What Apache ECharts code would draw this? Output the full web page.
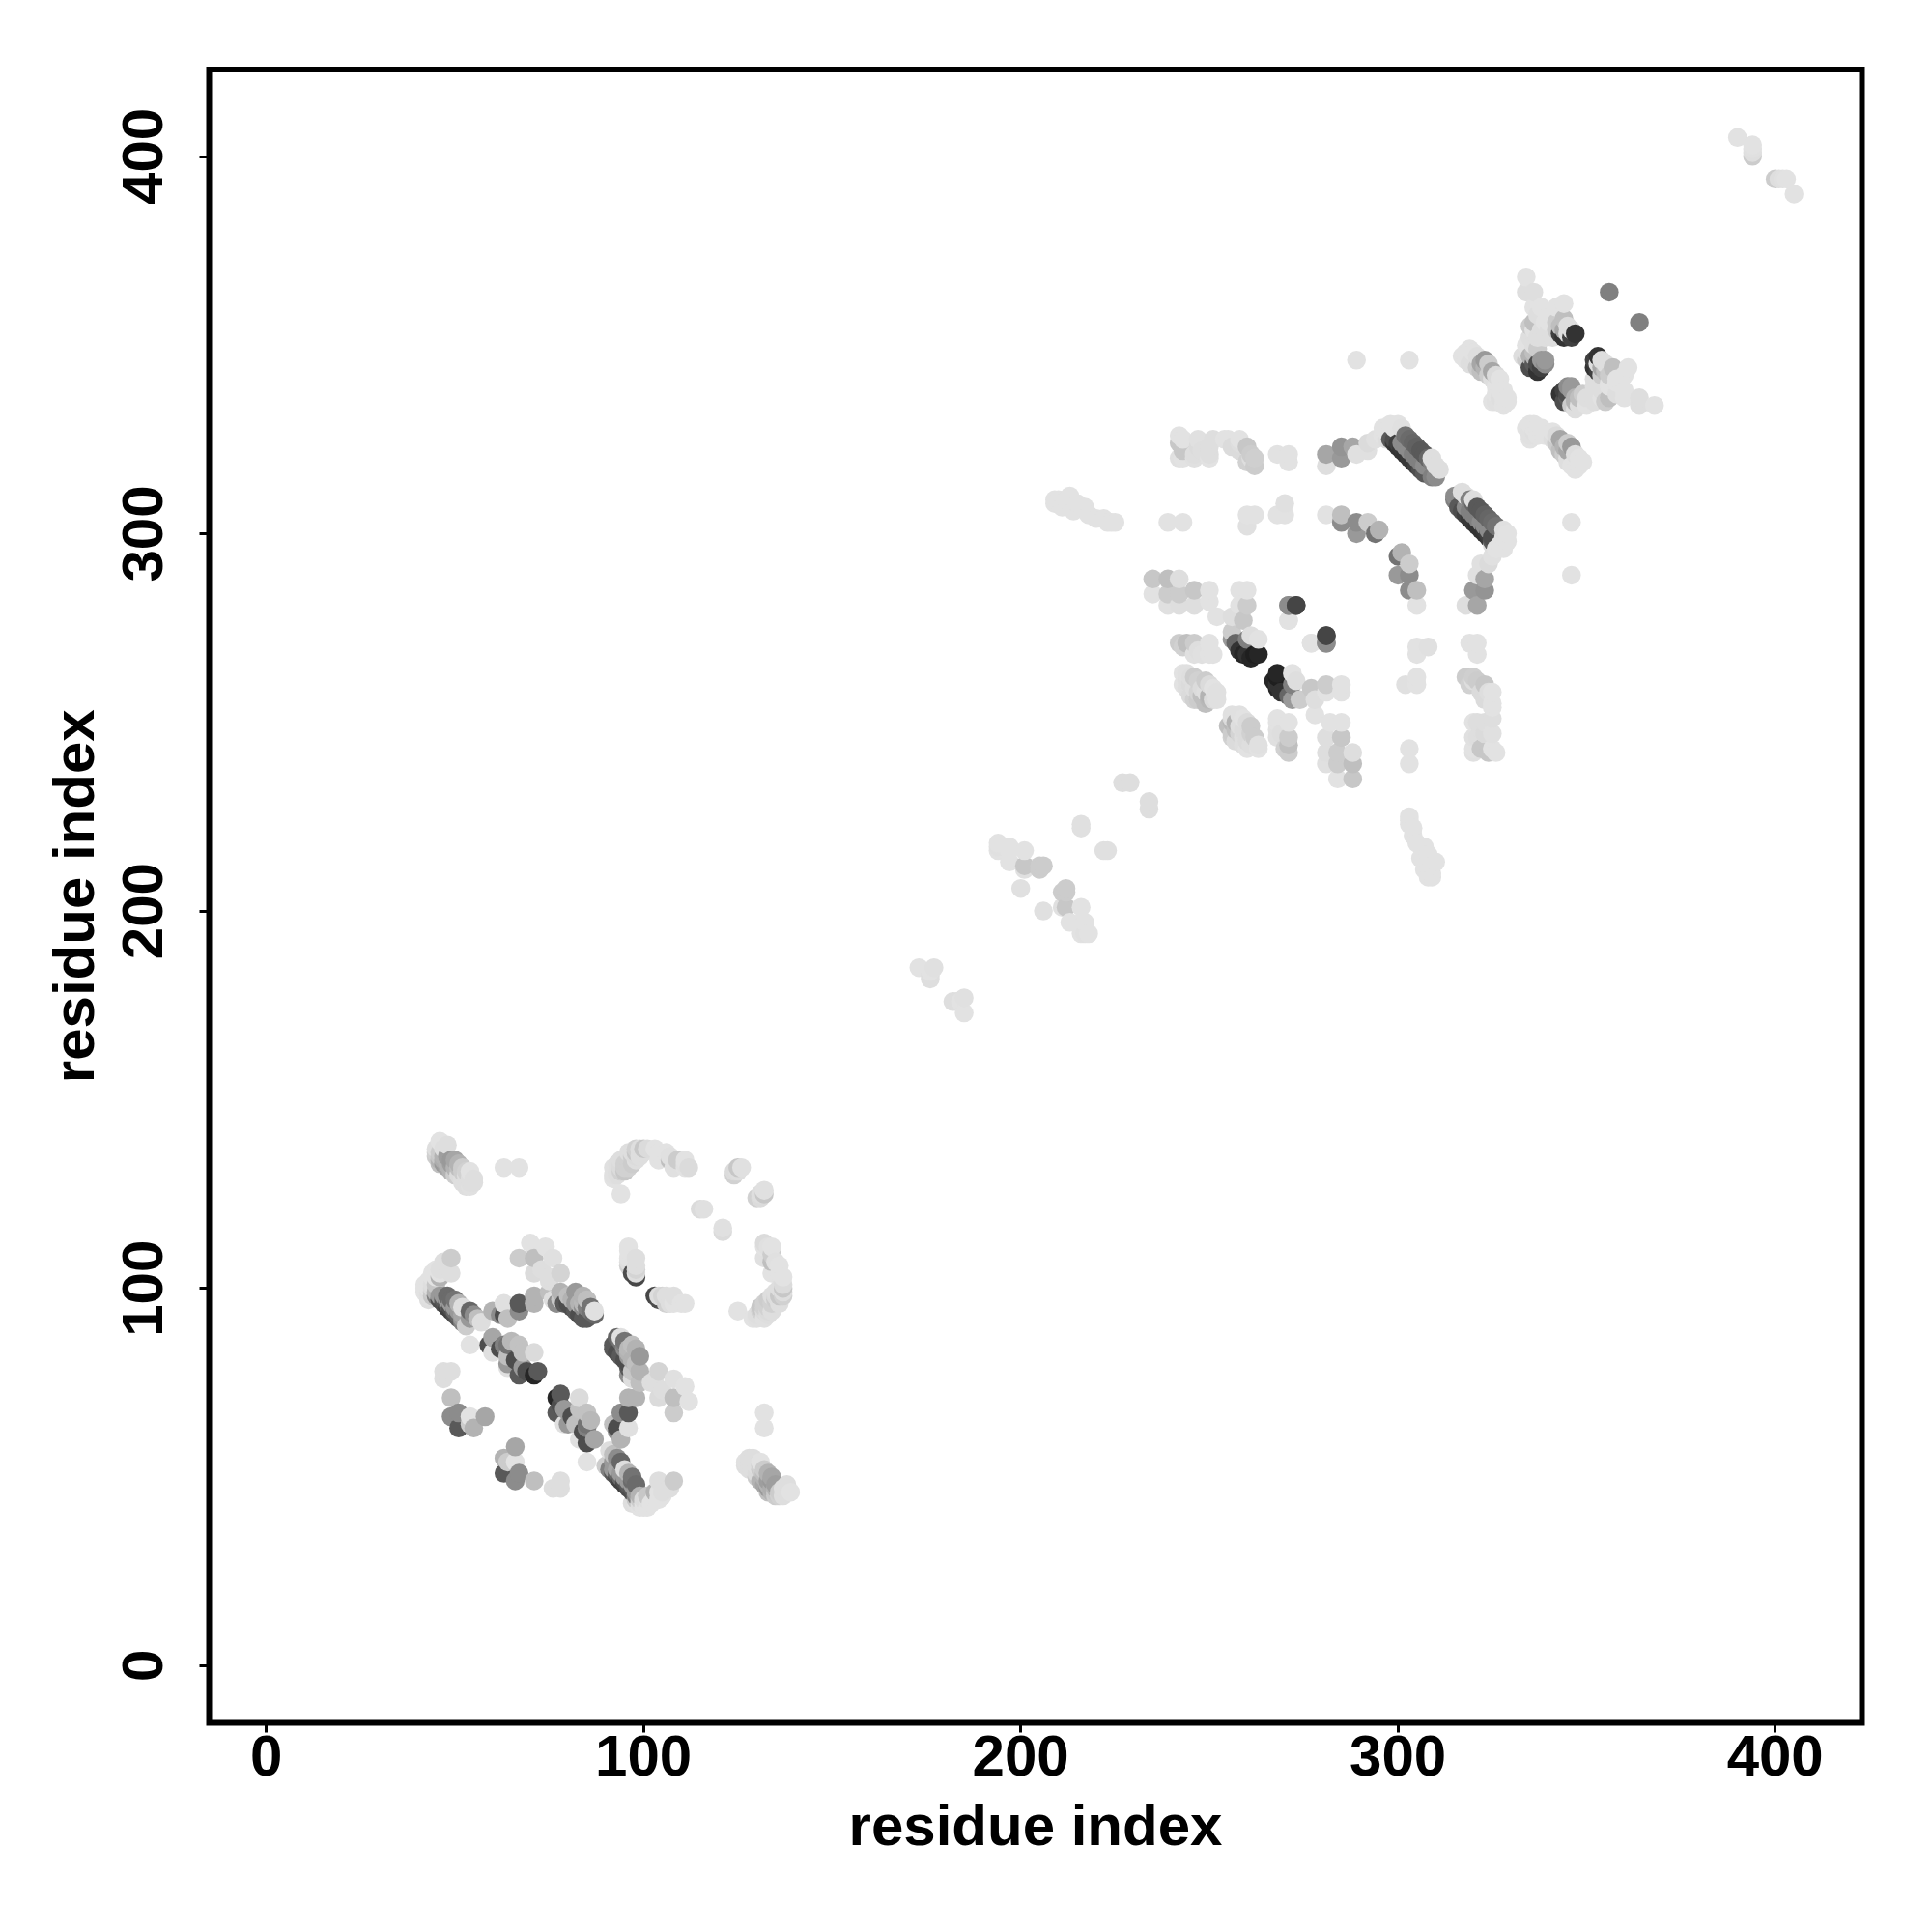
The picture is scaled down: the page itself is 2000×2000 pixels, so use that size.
<!DOCTYPE html>
<html><head><meta charset="utf-8">
<style>html,body{margin:0;padding:0;background:#fff}#c{width:2000px;height:2000px}</style>
<script src="https://cdn.jsdelivr.net/npm/echarts@6/dist/echarts.min.js"></script>
</head><body><div id="c"></div>
<script>
// contacts [residue i, residue j, grey level 0..1]; the map is symmetric about the diagonal
const strandA=[[46,139,.88],[45,137,.85],[45,136,.82],[45,135,.8],[46,136,.8],[46,134,.7],[46,133,.75],[47,137,.85],[48,138,.85],[46,135,.78],[47,135,.7],[47,134,.68],[47,133,.6],[48,135,.62],[48,133,.7],[48,132,.65],[49,134,.6],[49,133,.62],[49,131,.7],[50,134,.65],[50,132,.7],[50,130,.8],[51,133,.7],[51,132,.75],[51,130,.84],[52,132,.8],[52,131,.8],[53,131,.82],[53,130,.85],[54,129,.85],[54,131,.87],[55,129,.85],[52,129,.85],[52,128,.85],[53,128,.85],[53,127,.85],[54,127,.86],[54,128,.85],[55,128,.85],[63,132,.88],[67,132,.88]];
const arcB=[[92,129,.87],[92,130,.86],[92,132,.86],[93,130,.85],[93,131,.85],[93,133,.85],[94,125,.88],[94,131,.82],[94,132,.84],[94,133,.84],[94,134,.85],[95,131,.78],[95,132,.82],[95,133,.82],[96,132,.82],[96,134,.82],[96,136,.85],[97,133,.8],[97,135,.8],[97,136,.85],[98,135,.84],[98,136,.78],[98,137,.82],[98,134,.85],[99,135,.85],[99,137,.85],[100,136,.85],[100,137,.78],[101,137,.84],[103,137,.87],[104,136,.88],[104,134,.88],[106,136,.87],[107,134,.75],[107,135,.86],[108,132,.86],[109,134,.8],[111,133,.86],[111,134,.87],[111,132,.87],[112,132,.84],[124,130,.82],[125,132,.78],[126,132,.86],[115,121,.84],[116,121,.86],[124,131,.84],[125,131,.85]];
const stemC=[[96,111,.88],[96,110,.87],[96,108,.87],[98,108,.85],[96,107,.85],[98,106,.85],[96,106,.82],[98,105,.83],[97,104,.3],[98,103,.28],[98,104,.85]];
const bandD=[[42,100,.88],[42,101,.88],[42,99,.87],[43,102,.87],[43,100,.87],[43,98,.86],[43,97,.85],[44,101,.85],[44,100,.84],[44,103,.87],[44,104,.88],[45,105,.87],[46,104,.87],[45,101,.78],[44,99,.8],[43,99,.85],[44,98,.78],[45,99,.7],[45,98,.5],[46,97,.3],[46,98,.6],[47,97,.35],[47,96,.3],[47,98,.6],[48,95,.25],[48,96,.35],[48,97,.6],[49,95,.3],[49,94,.25],[49,96,.6],[50,93,.3],[50,94,.4],[50,95,.6],[51,92,.35],[51,93,.4],[51,94,.6],[52,91,.5],[52,92,.6],[52,93,.65],[48,98,.42],[49,97,.42],[50,97,.45],[51,96,.7],[52,95,.85],[54,94,.4],[55,93,.55],[54,92,.6],[56,92,.75],[57,91,.85],[53,90,.8],[46,103,.7],[47,107,.85],[49,108,.8],[49,104,.85],[46,105,.85],[45,103,.87]];
const clusterE=[[60,94,.7],[63,96,.86],[63,93,.3],[62,93,.55],[64,92,.75],[67,96,.35],[67,94,.55],[71,98,.7],[71,96,.7],[70,112,.88],[67,108,.8],[71,108,.75],[74,111,.88],[76,108,.86],[71,104,.84],[73,105,.85],[75,103,.85],[78,104,.83],[75,102,.85],[75,99,.75],[76,97,.85],[77,96,.55],[78,99,.7],[78,97,.78],[79,96,.35],[80,96,.3],[81,95,.3],[80,98,.75],[81,97,.7],[82,99,.6],[82,96,.6],[82,94,.35],[83,93,.3],[83,96,.7],[84,98,.7],[84,96,.72],[84,95,.55],[84,92,.35],[85,92,.35],[85,95,.5],[86,94,.45],[86,95,.45],[87,93,.4],[87,94,.86],[85,97,.75]];
const clusterF=[[60,87,.65],[59,85,.3],[60,83,.86],[54,85,.88],[63,85,.5],[62,84,.3],[64,85,.45],[65,86,.72],[67,85,.76],[68,83,.76],[71,83,.84],[64,80,.6],[64,79,.86],[64,82,.75],[66,81,.3],[68,79,.6],[67,77,.35],[69,78,.3],[72,78,.35],[71,77,.15],[47,76,.85],[47,78,.85],[49,78,.85],[49,71,.75],[51,67,.55],[49,66,.55],[54,66,.88],[58,66,.65],[51,63,.35],[55,63,.7],[54,64,.8]];
const rowG=[[242,324,.78],[242,320,.86],[242,326,.87],[243,325,.87],[243,322,.78],[243,320,.87],[246,320,.86],[246,321,.85],[247,325,.86],[247,323,.84],[248,322,.85],[250,320,.87],[250,321,.85],[250,323,.85],[251,325,.85],[254,325,.87],[255,325,.87],[256,323,.84],[258,324,.85],[258,325,.87],[258,322,.84],[260,323,.78],[260,319,.82],[261,320,.85],[261,321,.8],[262,318,.8],[262,320,.81],[268,321,.88],[271,321,.88],[271,319,.88],[281,321,.65],[281,318,.85],[285,323,.58],[285,320,.6],[288,323,.65],[289,321,.86],[292,324,.84],[292,322,.86],[294,325,.86],[239,303,.88],[243,303,.88],[260,305,.88],[260,302,.86],[262,305,.88],[268,305,.88],[270,308,.86],[270,305,.87],[281,305,.87],[285,305,.75],[285,303,.55],[289,303,.55],[289,300,.6],[292,303,.8],[294,300,.45],[295,301,.7]];
const bandH=[[296,328,.88],[296,326,.88],[297,327,.87],[297,325,.85],[298,329,.88],[298,325,.35],[299,328,.88],[299,324,.22],[299,325,.3],[300,329,.88],[300,323,.2],[300,324,.25],[301,328,.86],[301,322,.2],[301,323,.22],[301,324,.55],[302,326,.45],[302,321,.2],[302,323,.55],[303,325,.42],[303,320,.22],[303,322,.55],[304,324,.4],[304,319,.22],[304,321,.5],[305,323,.38],[305,318,.25],[305,320,.5],[306,322,.35],[306,317,.3],[306,319,.5],[307,321,.35],[307,316,.35],[307,318,.55],[308,320,.4],[309,319,.5],[309,315,.5],[309,320,.85],[310,315,.55],[310,318,.85],[311,317,.85]];
const gridI=[[235,288,.78],[235,284,.88],[239,288,.75],[239,284,.8],[239,281,.86],[242,288,.85],[242,284,.8],[242,281,.85],[246,285,.78],[246,281,.85],[250,285,.87],[250,282,.88],[252,278,.88],[256,278,.85],[258,285,.87],[258,281,.87],[256,274,.8],[256,272,.6],[257,271,.4],[258,269,.2],[259,268,.15],[259,277,.78],[260,285,.87],[260,281,.8],[260,272,.5],[260,268,.2],[261,273,.85],[261,267,.15],[262,268,.12],[263,272,.87],[263,268,.15],[273,281,.3],[271,281,.55],[271,277,.88],[277,271,.88],[281,273,.27],[281,271,.55],[242,271,.8],[243,270,.82],[244,271,.75],[246,271,.8],[247,269,.85],[246,268,.86],[248,268,.86],[250,271,.87],[250,268,.88],[251,268,.88],[243,263,.87],[243,260,.87],[244,261,.85],[244,263,.86],[244,259,.85],[245,262,.85],[245,260,.84],[245,257,.84],[246,262,.8],[246,259,.85],[246,256,.82],[247,261,.82],[247,258,.83],[247,256,.8],[248,257,.75],[248,259,.84],[249,261,.8],[249,258,.85],[249,255,.75],[250,257,.7],[250,256,.72],[251,259,.87],[250,260,.84],[251,256,.84],[252,258,.86],[252,256,.86]];
const chainJ=[[209,308,.87],[209,309,.87],[210,309,.87],[211,307,.87],[212,309,.87],[213,308,.87],[213,310,.87],[214,306,.87],[215,308,.87],[217,307,.87],[218,305,.87],[220,304,.87],[222,304,.87],[223,303,.87],[224,303,.87],[225,303,.87],[173,185,.87],[176,183,.85],[176,182,.85],[177,185,.86],[176,184,.87],[194,218,.87],[194,217,.86],[194,216,.87],[197,217,.87],[197,216,.87],[197,213,.87],[201,216,.87],[201,212,.78],[201,211,.86],[205,212,.8],[205,211,.8],[206,212,.8],[200,206,.86],[216,223,.86],[216,222,.86],[227,234,.85],[229,234,.85]];
const clusterK=[[289,346,.88],[303,346,.88],[334,368,.88],[334,364,.85],[336,364,.85],[336,360,.88],[338,360,.87],[342,360,.87],[344,361,.87],[339,356,.87],[336,354,.87],[336,356,.75],[335,355,.8],[337,358,.85],[340,356,.87],[341,358,.87],[340,358,.87],[342,356,.8],[344,357,.75],[335,352,.85],[336,350,.85],[337,352,.85],[338,354,.85],[339,352,.85],[340,354,.85],[341,352,.85],[342,354,.8],[343,355,.75],[344,354,.65],[343,353,.25],[344,352,.2],[345,355,.85],[345,353,.85],[346,354,.85],[346,352,.25],[347,353,.2],[334,350,.88],[334,348,.85],[333,347,.85],[334,346,.8],[335,347,.7],[335,344,.3],[336,348,.75],[336,345,.35],[336,347,.7],[337,349,.8],[337,345,.3],[337,343,.2],[338,346,.6],[339,346,.6],[339,345,.55],[338,344,.25],[356,364,.5]];
const clusterL=[[328,334,.88],[329,336,.88],[329,335,.87],[328,338,.88],[325,335,.87],[327,341,.88],[325,343,.65],[325,341,.85],[323,346,.6],[322,343,.75],[322,345,.65],[323,344,.7],[324,345,.8],[324,342,.8],[320,348,.88],[319,349,.88],[318,348,.88],[317,347,.87],[318,346,.87],[319,345,.85],[321,344,.8],[320,345,.85],[321,347,.85],[326,339,.87],[326,337,.87],[327,338,.87],[328,337,.88],[326,342,.84],[328,336,.88],[327,335,.86],[327,336,.85],[326,335,.86]];
const cornerM=[[390,405,.87],[394,403,.87],[394,402,.86],[394,401,.85],[394,400,.8]];

const blocks=[strandA,arcB,stemC,bandD,clusterE,clusterF,rowG,bandH,gridI,chainJ,clusterK,clusterL,cornerM];
const xTickValues=[0,100,200,300,400];
const yTickValues=[0,100,200,300,400];
const xAxisTitle='residue index';
const yAxisTitle='residue index';

const points=[];
blocks.forEach(b=>b.forEach(([i,j,g])=>{points.push([i,j,g]);points.push([j,i,g]);}));
points.sort((a,b)=>a[0]-b[0]||a[1]-b[1]);
const greyHex=g=>{const t=g>=.84?Math.min(.885,g+.02):g;const v=Math.round(t*255).toString(16).padStart(2,'0');return '#'+v+v+v;};
const FONT='"Liberation Sans",Arial,sans-serif';
const axisCommon=ticks=>({
  type:'value',min:-15.15,max:423,splitLine:{show:false},
  axisLine:{show:false,onZero:false},
  axisTick:{show:true,length:10,customValues:ticks,lineStyle:{color:'#000',width:3}},
  nameLocation:'middle',
  nameTextStyle:{fontFamily:FONT,fontWeight:'bold',fontSize:60,color:'#000'}
});
const chart=echarts.init(document.getElementById('c'),null,{renderer:'canvas'});
chart.setOption({
  animation:false,backgroundColor:'#fff',
  grid:{show:true,left:216.5,right:72.5,top:72,bottom:216.5,borderColor:'#000',borderWidth:6,backgroundColor:'transparent',containLabel:false},
  xAxis:Object.assign(axisCommon(xTickValues),{name:xAxisTitle,nameGap:80,
    axisLabel:{customValues:xTickValues,margin:8,fontFamily:FONT,fontWeight:'bold',fontSize:60,color:'#000',hideOverlap:false}}),
  yAxis:Object.assign(axisCommon(yTickValues),{name:yAxisTitle,nameGap:106,
    axisLabel:{customValues:yTickValues,rotate:90,margin:65,align:'center',verticalAlign:'middle',fontFamily:FONT,fontWeight:'bold',fontSize:60,color:'#000',hideOverlap:false}}),
  series:[{type:'scatter',symbol:'circle',symbolSize:19.5,clip:false,z:1,
    data:points.map(p=>({value:[p[0],p[1]],itemStyle:{color:greyHex(p[2]),opacity:1}}))}]
});
</script></body></html>
